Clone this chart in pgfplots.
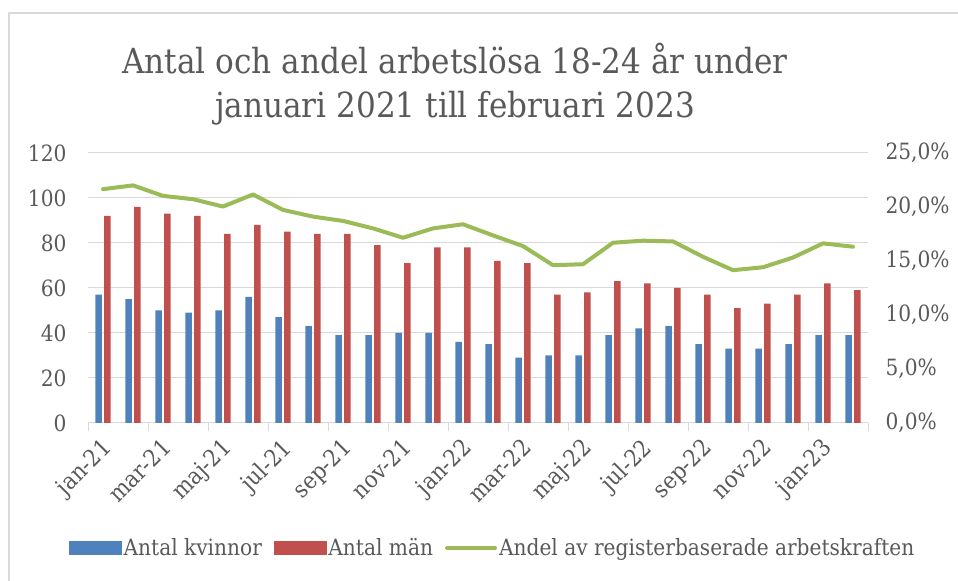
\documentclass[border=0pt]{standalone}
\usepackage{fontspec}
\setmainfont{DejaVu Serif Condensed}
\usepackage{pgfplots}
\pgfplotsset{compat=1.18}
\definecolor{cblue}{HTML}{4F81BD}
\definecolor{cred}{HTML}{C0504D}
\definecolor{cgreen}{HTML}{9BBB59}
\definecolor{ctext}{HTML}{595959}
\definecolor{cgrid}{HTML}{D9D9D9}
\begin{document}
\begin{tikzpicture}[x=1bp,y=1bp]
\path[use as bounding box] (0,0) rectangle (958,581);
\draw[cgrid, line width=1.5bp] (9,0) -- (9,568) -- (958,568);
\node[anchor=base, text=ctext, font=\fontsize{34.7}{40}\selectfont, inner sep=0pt] at (455,507) {Antal och andel arbetslösa 18-24 år under};
\node[anchor=base, text=ctext, font=\fontsize{34.7}{40}\selectfont, inner sep=0pt] at (455,463) {januari 2021 till februari 2023};
\begin{axis}[
  at={(88bp,158bp)}, anchor=south west,
  width=780bp, height=270bp, scale only axis,
  xmin=-0.5, xmax=25.5, ymin=0, ymax=120,
  ytick={0,20,...,120},
  ymajorgrids, grid style={color=cgrid, line width=1bp},
  axis x line*=bottom, axis y line*=left,
  y axis line style={draw=none},
  x axis line style={color=cgrid, line width=1bp},
  ytick style={draw=none},
  xtick={-0.5,1.5,...,25.5}, xticklabels={},
  xtick align=outside, major tick length=8bp,
  xtick style={color=cgrid, line width=1bp},
  extra x ticks={0,2,...,24},
  extra x tick labels={jan-21,mar-21,maj-21,jul-21,sep-21,nov-21,jan-22,mar-22,maj-22,jul-22,sep-22,nov-22,jan-23},
  extra x tick style={major tick length=0pt, grid=none, tick label style={xshift=-2.5bp, yshift=-9bp, rotate=45, anchor=north east, font=\fontsize{23.5}{27}\selectfont}},
  /pgf/number format/assume math mode=true,
  tick label style={text=ctext, font=\fontsize{22.5}{26}\selectfont},
  yticklabel style={xshift=-18bp},
  clip=false,
]
\addplot[ybar, bar width=6.5bp, bar shift=-4.3bp, fill=cblue, draw=none] coordinates {
(0,57)(1,55)(2,50)(3,49)(4,50)(5,56)(6,47)(7,43)(8,39)(9,39)(10,40)(11,40)(12,36)
(13,35)(14,29)(15,30)(16,30)(17,39)(18,42)(19,43)(20,35)(21,33)(22,33)(23,35)(24,39)(25,39)};
\addplot[ybar, bar width=6.5bp, bar shift=4.3bp, fill=cred, draw=none] coordinates {
(0,92)(1,96)(2,93)(3,92)(4,84)(5,88)(6,85)(7,84)(8,84)(9,79)(10,71)(11,78)(12,78)
(13,72)(14,71)(15,57)(16,58)(17,63)(18,62)(19,60)(20,57)(21,51)(22,53)(23,57)(24,62)(25,59)};
\end{axis}
\begin{axis}[
  at={(88bp,158bp)}, anchor=south west,
  width=780bp, height=270bp, scale only axis,
  xmin=-0.5, xmax=25.5, ymin=0, ymax=25,
  ytick={0,5,...,25},
  axis x line=none, axis y line*=right,
  y axis line style={draw=none},
  ytick style={draw=none},
  yticklabel={\pgfmathprintnumber[fixed,fixed zerofill,precision=1,use comma]{\tick}\%},
  /pgf/number format/assume math mode=true,
  tick label style={text=ctext, font=\fontsize{22.5}{26}\selectfont},
  yticklabel style={xshift=14bp},
  legend columns=3,
  legend style={at={(axis description cs:0.519,-0.463)}, anchor=center, draw=none, fill=none,
    font=\fontsize{22.5}{26}\selectfont, text=ctext, inner sep=0pt,
    nodes={inner xsep=2bp},
    /tikz/every even column/.append style={column sep=10bp}},
  clip=false,
]
\addlegendimage{legend image code/.code={\fill[cblue] (0bp,-6.5bp) rectangle (52bp,6.5bp);}}
\addlegendentry{Antal kvinnor}
\addlegendimage{legend image code/.code={\fill[cred] (0bp,-6.5bp) rectangle (52bp,6.5bp);}}
\addlegendentry{Antal män}
\addplot[cgreen, line width=4bp, line join=round, line cap=round, mark=none,
  legend image code/.code={\draw[cgreen, line width=4bp, line cap=round] (2bp,0bp) -- (50bp,0bp);}] coordinates {
(0,21.65)(1,22.0)(2,21.03)(3,20.72)(4,20.04)(5,21.16)(6,19.73)(7,19.11)(8,18.71)(9,18.02)(10,17.15)(11,18.02)(12,18.40)
(13,17.37)(14,16.38)(15,14.61)(16,14.70)(17,16.69)(18,16.88)(19,16.81)(20,15.39)(21,14.15)(22,14.42)(23,15.32)(24,16.63)(25,16.32)};
\addlegendentry{Andel av registerbaserade arbetskraften}
\end{axis}
\end{tikzpicture}
\end{document}
